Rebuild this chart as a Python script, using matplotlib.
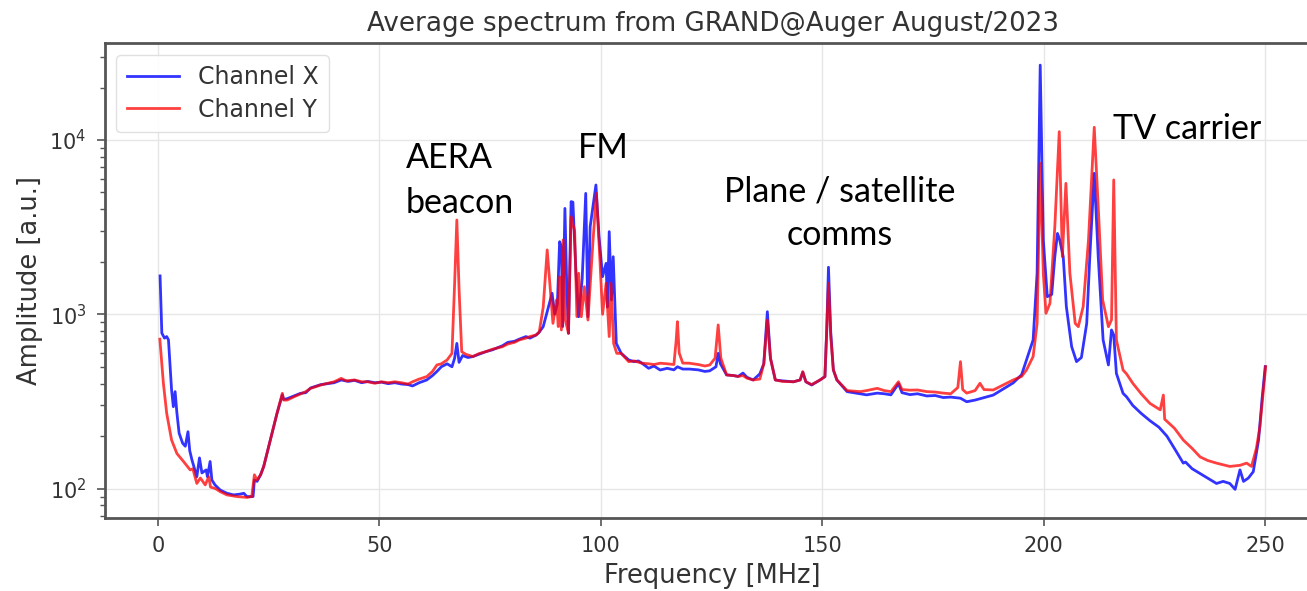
import numpy as np
import matplotlib
matplotlib.use("Agg")
import matplotlib.pyplot as plt

# Channel X (blue) - frequency [MHz] and amplitude [a.u.]
freq_x = [0.5, 0.9, 1.5, 2.0, 2.4, 3.1, 3.5, 3.9, 4.3, 4.8, 5.6, 6.2, 6.8, 7.2, 7.7,
          8.8, 9.4, 9.95, 10.9, 11.2, 11.8, 12.2, 12.9, 14.1, 15.6, 17.1, 18.6, 19.4,
          20.1, 21.5, 21.8, 22.4, 23.2, 23.9, 25.4, 26.9, 28.1, 28.4, 29.2, 30.7, 32.2,
          33.4, 34.5, 36.8, 39.8, 41.4, 43.0, 44.4, 46.0, 47.4, 49.0, 50.5, 52.0, 53.5,
          55.0, 56.5, 57.5, 59.0, 60.7, 62.0, 63.0, 64.0, 65.3, 66.4, 67.0, 67.5, 68.0,
          68.8, 70.0, 71.1, 72.5, 74.1, 75.5, 77.8, 79.0, 80.5, 81.6, 83.1, 84.0, 85.4,
          86.1, 87.0, 88.0, 89.0, 89.6, 90.2, 90.7, 91.1, 91.4, 91.9, 92.3, 92.7, 93.3,
          93.7, 94.4, 95.0, 95.8, 96.6, 97.1, 97.6, 98.9, 99.6, 100.4, 101.2, 101.5,
          101.9, 102.4, 102.8, 103.5, 104.6, 106.3, 107.5, 108.5, 109.3, 110.8, 112.0,
          113.4, 115.0, 116.5, 117.3, 118.5, 120.0, 122.0, 123.5, 124.6, 126.0, 126.5,
          127.0, 128.4, 130.0, 131.0, 132.1, 133.0, 134.4, 135.9, 136.8, 137.6, 138.3,
          139.4, 141.0, 143.5, 145.0, 145.6, 146.3, 147.6, 149.5, 150.6, 151.0, 151.4,
          151.9, 152.5, 153.3, 155.6, 158.6, 160.0, 162.4, 164.0, 165.5, 167.2, 168.0,
          169.8, 171.5, 173.6, 175.5, 177.3, 179.0, 181.2, 182.6, 184.5, 186.0, 188.6,
          191.0, 193.1, 195.0, 196.1, 197.6, 198.5, 199.2, 199.9, 200.8, 201.8, 202.5,
          203.1, 203.6, 204.4, 205.1, 206.3, 207.4, 208.5, 209.7, 210.4, 211.4, 212.3,
          213.4, 214.6, 215.3, 215.8, 216.4, 217.9, 218.7, 220.1, 222.0, 224.0, 226.0,
          227.8, 229.5, 231.5, 232.0, 233.5, 235.3, 237.0, 239.0, 240.5, 242.0, 243.2,
          244.3, 245.1, 246.2, 247.3, 248.5, 249.3, 250.0]
amp_x = [1660, 780, 730, 745, 713, 368, 295, 360, 272, 208, 182, 175, 212, 165, 146,
         117, 150, 123, 128, 117, 143, 112, 105, 98, 94, 92, 93, 94,
         90, 90, 112, 110, 120, 134, 190, 270, 345, 325, 328, 340, 352,
         355, 378, 395, 405, 420, 412, 418, 405, 412, 405, 408, 400, 405,
         398, 395, 388, 405, 420, 445, 470, 500, 520, 500, 560, 681, 530,
         580, 565, 572, 590, 611, 625, 660, 690, 700, 720, 745, 730, 760,
         790, 850, 1060, 1320, 1000, 1150, 2610, 2450, 850, 4050, 1500, 778, 4430,
         4400, 1720, 968, 1600, 4940, 968, 3180, 5520, 2800, 1644, 1960, 1100,
         2980, 1208, 2140, 681, 597, 547, 535, 540, 524, 490, 505,
         479, 490, 480, 500, 485, 485, 480, 470, 474, 500, 597,
         520, 449, 445, 440, 460, 435, 420, 455, 520, 1035, 560,
         420, 415, 410, 420, 465, 410, 393, 420, 439, 800, 1862,
         800, 480, 420, 360, 350, 345, 353, 350, 345, 400, 355,
         346, 350, 340, 342, 333, 335, 330, 315, 322, 330, 344,
         375, 404, 450, 547, 713, 1720, 26900, 2670, 1262, 1300, 2140,
         2910, 2670, 2140, 1107, 652, 535, 565, 887, 2140, 6440, 2140,
         713, 512, 813, 760, 458, 352, 336, 300, 270, 245, 225,
         200, 170, 140, 142, 130, 122, 115, 107, 110, 107, 99,
         128, 110, 115, 125, 190, 330, 501]

# Channel Y (red)
freq_y = [0.45, 1.25, 2.0, 3.1, 4.3, 5.8, 7.3, 7.9, 8.8, 9.6, 10.7, 11.5, 11.9, 13.0,
          14.1, 15.6, 17.9, 20.1, 21.2, 21.8, 22.4, 23.2, 23.9, 25.4, 26.9, 28.1, 28.4,
          29.2, 30.7, 32.2, 33.4, 34.5, 36.8, 38.0, 39.8, 41.4, 42.5, 44.4, 46.0, 47.4,
          49.0, 50.5, 52.0, 53.5, 55.0, 56.5, 57.5, 59.0, 60.7, 62.0, 63.0, 64.0, 65.3,
          66.4, 67.0, 67.5, 68.0, 68.6, 69.5, 71.1, 72.5, 74.1, 75.5, 77.8, 79.0, 80.5,
          81.6, 83.1, 84.0, 85.4, 86.1, 87.0, 87.9, 88.5, 89.2, 90.0, 90.4, 90.7, 91.1,
          91.5, 92.0, 92.7, 93.3, 94.1, 94.6, 95.0, 95.6, 96.3, 97.1, 98.2, 99.0, 99.8,
          100.4, 101.2, 101.9, 102.3, 102.9, 103.6, 104.6, 106.3, 107.5, 109.3, 110.8,
          112.0, 113.4, 115.0, 116.5, 117.0, 117.3, 117.7, 118.5, 120.0, 122.0, 123.5,
          124.6, 125.8, 126.5, 127.1, 128.4, 130.0, 131.0, 132.1, 133.0, 134.4, 135.9,
          136.8, 137.6, 138.3, 139.4, 141.0, 143.5, 145.0, 145.6, 146.3, 147.6, 149.5,
          150.6, 151.0, 151.4, 151.9, 152.5, 153.3, 155.6, 158.6, 160.0, 162.4, 164.0,
          165.5, 167.2, 168.0, 169.8, 171.5, 173.6, 175.5, 177.3, 179.0, 180.6, 181.2,
          181.7, 182.6, 184.5, 185.6, 186.5, 188.6, 191.0, 193.1, 195.0, 196.1, 197.6,
          198.5, 199.2, 199.9, 200.5, 201.4, 202.5, 203.5, 204.2, 205.0, 205.9, 207.1,
          207.8, 208.9, 210.1, 211.4, 212.3, 213.3, 214.6, 215.3, 215.8, 216.4, 217.9,
          218.7, 220.1, 222.0, 224.0, 226.3, 227.0, 227.3, 229.5, 231.5, 233.5, 235.3,
          237.0, 239.0, 242.0, 244.3, 245.8, 246.9, 248.0, 248.8, 249.5, 250.1]
amp_y = [720, 402, 270, 190, 159, 143, 128, 130, 107, 115, 105, 117, 102, 100,
         96, 92, 90, 89, 90, 120, 112, 120, 134, 190, 270, 352, 322,
         322, 336, 349, 360, 376, 393, 400, 410, 429, 415, 420, 410, 410,
         402, 410, 405, 410, 405, 398, 410, 425, 439, 470, 512, 520, 547,
         597, 1500, 3475, 1400, 610, 590, 572, 595, 611, 630, 652, 675, 690,
         713, 730, 745, 761, 790, 1100, 2340, 1500, 887, 1208, 850, 1644, 813,
         2670, 927, 778, 3630, 3000, 970, 1720, 968, 1440, 927, 2550, 4940, 2050,
         1000, 1506, 745, 1506, 681, 597, 597, 535, 540, 524, 520,
         515, 524, 520, 515, 700, 907, 600, 525, 524, 515, 505,
         512, 560, 869, 560, 449, 445, 440, 445, 430, 420, 425,
         520, 927, 560, 420, 412, 410, 420, 469, 410, 395, 420,
         439, 800, 1506, 750, 480, 420, 365, 360, 365, 376, 365,
         360, 410, 370, 367, 368, 360, 358, 353, 350, 380, 535,
         370, 353, 365, 402, 370, 368, 395, 420, 440, 479, 572,
         887, 7350, 1720, 1013, 1156, 3180, 11160, 2140, 5640, 1720, 887,
         849, 1107, 2670, 11830, 4140, 1208, 849, 930, 5900, 713, 479,
         455, 402, 350, 308, 283, 344, 250, 222, 190, 170, 152,
         145, 140, 134, 136, 140, 134, 170, 226, 350, 501]

fig = plt.figure(figsize=(13.07, 5.91), dpi=100)
ax = fig.add_axes([0.0801, 0.1235, 0.9303, 0.8037])

ax.plot(freq_x, amp_x, color='blue', lw=2, alpha=0.8, label='Channel X')
ax.plot(freq_y, amp_y, color='red', lw=2, alpha=0.75, label='Channel Y')

ax.set_yscale('log')
ax.set_xlim(-12, 262.5)
ax.set_ylim(67.8, 36000)
ax.set_xticks([0, 50, 100, 150, 200, 250])

ax.grid(True, which='major', color='#e6e6e6', lw=1)
ax.set_axisbelow(True)
for s in ax.spines.values():
    s.set_color('#555555')
    s.set_linewidth(2)
ax.tick_params(which='major', length=6, width=1.2, pad=7, labelsize=15,
               color='#555555', labelcolor='#333333')
ax.tick_params(which='minor', length=3.5, width=1, color='#555555')

ax.set_title('Average spectrum from GRAND@Auger August/2023', fontsize=18.8,
             color='#333333', pad=9)
ax.set_xlabel('Frequency [MHz]', fontsize=18.5, color='#333333', labelpad=5)
ax.set_ylabel('Amplitude [a.u.]', fontsize=18.5, color='#333333', labelpad=5)

leg = ax.legend(loc='upper left', fontsize=17, frameon=True, fancybox=True,
                framealpha=0.9, edgecolor='#dddddd', borderpad=0.45,
                handlelength=2.2, labelspacing=0.35)
for t in leg.get_texts():
    t.set_color('#333333')

# annotations
ann = dict(fontsize=24.5, family='Lato', color='black', va='baseline')
ax.text(56.0, 6900, 'AERA', ha='left', **ann)
ax.text(56.0, 3810, 'beacon', ha='left', **ann)
ax.text(94.9, 7880, 'FM', ha='left', **ann)
ax.text(153.9, 4430, 'Plane / satellite', ha='center', **ann)
ax.text(153.9, 2500, 'comms', ha='center', **ann)
ax.text(215.7, 10130, 'TV carrier', ha='left', **ann)

fig.savefig('out.png', dpi=100)
